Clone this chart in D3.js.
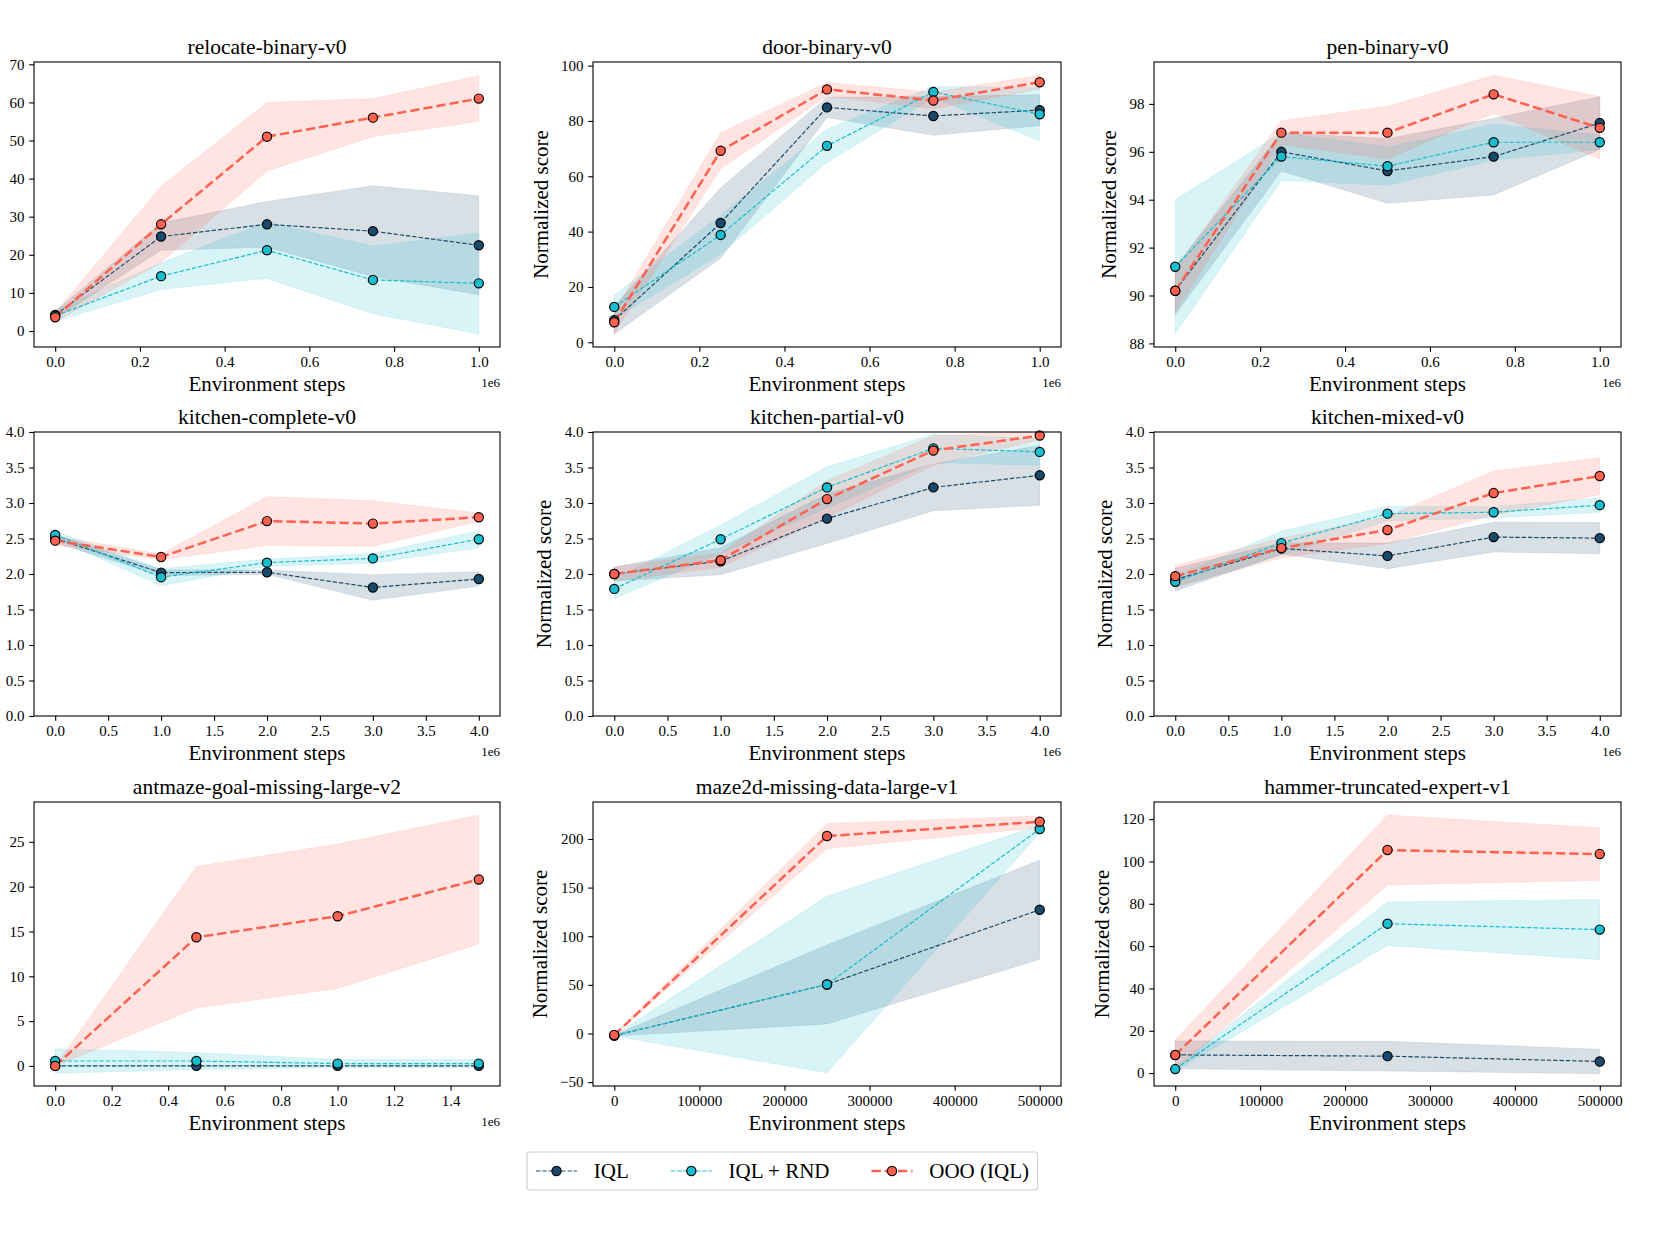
<!DOCTYPE html>
<html><head><meta charset="utf-8">
<script src="https://cdn.jsdelivr.net/npm/d3@7"></script>
<style>
body{margin:0;background:#fff;}
svg{display:block;}
text{font-family:"Liberation Serif","Times New Roman",serif;fill:#000;}
</style>
</head><body>
<svg id="chart" width="1654" height="1248"></svg>
<script>
// ---------------- DATA ----------------
const methods = ["IQL", "IQL + RND", "OOO (IQL)"];
const titles = ["relocate-binary-v0", "door-binary-v0", "pen-binary-v0",
  "kitchen-complete-v0", "kitchen-partial-v0", "kitchen-mixed-v0",
  "antmaze-goal-missing-large-v2", "maze2d-missing-data-large-v1", "hammer-truncated-expert-v1"];

const steps1M = [0, 250000, 500000, 750000, 1000000];
const steps4M = [0, 1000000, 2000000, 3000000, 4000000];
const stepsAnt = [0, 500000, 1000000, 1500000];
const steps500k = [0, 250000, 500000];

// relocate-binary-v0
const relocateIQL = [4.2, 24.8, 28.0, 26.2, 22.5];
const relocateIQLStd = [1.0, 3.6, 6.0, 11.9, 13.0];
const relocateRND = [4.0, 14.4, 21.2, 13.4, 12.5];
const relocateRNDStd = [1.5, 3.5, 7.4, 8.9, 13.3];
const relocateOOO = [3.6, 28.0, 51.0, 56.0, 61.0];
const relocateOOOStd = [1.2, 10.0, 9.0, 5.0, 6.0];
// door-binary-v0
const doorIQL = [8.0, 43.1, 84.9, 81.8, 83.9];
const doorIQLStd = [5.0, 12.7, 3.7, 7.0, 5.6];
const doorRND = [12.8, 38.8, 71.0, 90.5, 82.4];
const doorRNDStd = [4.3, 7.0, 6.0, 2.0, 9.6];
const doorOOO = [7.2, 69.2, 91.4, 87.4, 94.0];
const doorOOOStd = [4.0, 6.5, 2.5, 3.0, 2.5];
// pen-binary-v0
const penIQL = [90.2, 96.0, 95.2, 95.8, 97.2];
const penIQLStd = [1.0, 0.8, 1.35, 1.6, 1.1];
const penRND = [91.2, 95.8, 95.4, 96.4, 96.4];
const penRNDStd = [2.8, 1.0, 0.8, 0.75, 0.3];
const penOOO = [90.2, 96.8, 96.8, 98.4, 97.0];
const penOOOStd = [0.9, 0.5, 1.1, 0.8, 1.3];
// kitchen-complete-v0
const kcompIQL = [2.50, 2.02, 2.025, 1.81, 1.93];
const kcompIQLStd = [0.06, 0.04, 0.03, 0.18, 0.10];
const kcompRND = [2.55, 1.955, 2.16, 2.22, 2.49];
const kcompRNDStd = [0.05, 0.12, 0.05, 0.07, 0.12];
const kcompOOO = [2.47, 2.24, 2.745, 2.71, 2.80];
const kcompOOOStd = [0.06, 0.04, 0.345, 0.32, 0.06];
// kitchen-partial-v0
const kpartIQL = [2.0, 2.18, 2.78, 3.22, 3.39];
const kpartIQLStd = [0.10, 0.19, 0.35, 0.33, 0.42];
const kpartRND = [1.79, 2.49, 3.22, 3.77, 3.72];
const kpartRNDStd = [0.14, 0.20, 0.29, 0.20, 0.19];
const kpartOOO = [2.0, 2.195, 3.055, 3.74, 3.95];
const kpartOOOStd = [0.10, 0.10, 0.26, 0.21, 0.06];
// kitchen-mixed-v0
const kmixIQL = [1.92, 2.36, 2.255, 2.52, 2.505];
const kmixIQLStd = [0.16, 0.08, 0.18, 0.21, 0.22];
const kmixRND = [1.89, 2.435, 2.85, 2.87, 2.97];
const kmixRNDStd = [0.08, 0.17, 0.10, 0.08, 0.10];
const kmixOOO = [1.97, 2.365, 2.62, 3.14, 3.38];
const kmixOOOStd = [0.15, 0.14, 0.19, 0.31, 0.26];
// antmaze-goal-missing-large-v2
const antIQL = [0, 0, 0, 0];
const antIQLStd = [0, 0, 0, 0];
const antRND = [0.55, 0.55, 0.26, 0.26];
const antRNDStd = [1.37, 0.95, 0.45, 0.45];
const antOOO = [0, 14.35, 16.7, 20.8];
const antOOOStd = [0, 7.9, 8.05, 7.2];
// maze2d-missing-data-large-v1
const mazeIQL = [-2.2, 50.4, 127.2];
const mazeIQLStd = [0.5, 40.6, 51.0];
const mazeRND = [-2.2, 50.4, 210.2];
const mazeRNDStd = [0.5, 90.8, 4.0];
const mazeOOO = [-1.5, 203.0, 217.7];
const mazeOOOStd = [0.5, 13.0, 6.0];
// hammer-truncated-expert-v1
const hammerIQL = [8.6, 8.0, 5.5];
const hammerIQLStd = [6.6, 7.0, 5.8];
const hammerRND = [1.9, 70.6, 67.8];
const hammerRNDStd = [1.0, 10.3, 14.2];
const hammerOOO = [8.5, 105.4, 103.5];
const hammerOOOStd = [7.2, 16.5, 12.4];

// tick labels / values
const xTicks1M = [0, 200000, 400000, 600000, 800000, 1000000];
const xTicks4M = [0, 500000, 1000000, 1500000, 2000000, 2500000, 3000000, 3500000, 4000000];
const xTicksAnt = [0, 200000, 400000, 600000, 800000, 1000000, 1200000, 1400000];
const xTicks500k = [0, 100000, 200000, 300000, 400000, 500000];
const yTicksRelocate = [0, 10, 20, 30, 40, 50, 60, 70];
const yTicksDoor = [0, 20, 40, 60, 80, 100];
const yTicksPen = [88, 90, 92, 94, 96, 98];
const yTicksKitchen = [0, 0.5, 1.0, 1.5, 2.0, 2.5, 3.0, 3.5, 4.0];
const yTicksAnt = [0, 5, 10, 15, 20, 25];
const yTicksMaze = [-50, 0, 50, 100, 150, 200];
const yTicksHammer = [0, 20, 40, 60, 80, 100, 120];

// ---------------- STYLE ----------------
const colors = ["#1a4a6b", "#17becf", "#ff6150"];
const lineWidths = [1.2, 1.2, 2.5];
const dashes = ["4.4,1.9", "4.4,1.9", "9.25,4"];
const fillOpacity = 0.17;

const colLeft = [34, 593, 1154], colRight = [500, 1061, 1621];
const rowTop = [62, 432, 802], rowBottom = [347, 716, 1086];

const fmt1 = d => (d / 1e6).toFixed(1);
const fmtInt = d3.format("d");
const fmtK = d3.format(".1f");

const panels = [
  {steps: steps1M, m: [relocateIQL, relocateRND, relocateOOO], s: [relocateIQLStd, relocateRNDStd, relocateOOOStd],
   xd: [-50000, 1050000], yd: [-4.2, 70.6], xt: xTicks1M, xf: fmt1, yt: yTicksRelocate, yf: fmtInt, off: true, yl: false},
  {steps: steps1M, m: [doorIQL, doorRND, doorOOO], s: [doorIQLStd, doorRNDStd, doorOOOStd],
   xd: [-50000, 1050000], yd: [-1.7, 101.3], xt: xTicks1M, xf: fmt1, yt: yTicksDoor, yf: fmtInt, off: true, yl: true},
  {steps: steps1M, m: [penIQL, penRND, penOOO], s: [penIQLStd, penRNDStd, penOOOStd],
   xd: [-50000, 1050000], yd: [87.85, 99.75], xt: xTicks1M, xf: fmt1, yt: yTicksPen, yf: fmtInt, off: true, yl: true},
  {steps: steps4M, m: [kcompIQL, kcompRND, kcompOOO], s: [kcompIQLStd, kcompRNDStd, kcompOOOStd],
   xd: [-200000, 4200000], yd: [0, 4], xt: xTicks4M, xf: fmt1, yt: yTicksKitchen, yf: fmtK, off: true, yl: false},
  {steps: steps4M, m: [kpartIQL, kpartRND, kpartOOO], s: [kpartIQLStd, kpartRNDStd, kpartOOOStd],
   xd: [-200000, 4200000], yd: [0, 4], xt: xTicks4M, xf: fmt1, yt: yTicksKitchen, yf: fmtK, off: true, yl: true},
  {steps: steps4M, m: [kmixIQL, kmixRND, kmixOOO], s: [kmixIQLStd, kmixRNDStd, kmixOOOStd],
   xd: [-200000, 4200000], yd: [0, 4], xt: xTicks4M, xf: fmt1, yt: yTicksKitchen, yf: fmtK, off: true, yl: true},
  {steps: stepsAnt, m: [antIQL, antRND, antOOO], s: [antIQLStd, antRNDStd, antOOOStd],
   xd: [-75000, 1575000], yd: [-2.24, 29.44], xt: xTicksAnt, xf: fmt1, yt: yTicksAnt, yf: fmtInt, off: true, yl: false},
  {steps: steps500k, m: [mazeIQL, mazeRND, mazeOOO], s: [mazeIQLStd, mazeRNDStd, mazeOOOStd],
   xd: [-25000, 525000], yd: [-54, 238], xt: xTicks500k, xf: fmtInt, yt: yTicksMaze, yf: fmtInt, off: false, yl: true},
  {steps: steps500k, m: [hammerIQL, hammerRND, hammerOOO], s: [hammerIQLStd, hammerRNDStd, hammerOOOStd],
   xd: [-25000, 525000], yd: [-6.1, 128.1], xt: xTicks500k, xf: fmtInt, yt: yTicksHammer, yf: fmtInt, off: false, yl: true}
];

const svg = d3.select("#chart");
svg.append("rect").attr("width", 1654).attr("height", 1248).attr("fill", "#fff");

panels.forEach((p, k) => {
  const r = Math.floor(k / 3), c = k % 3;
  const L = colLeft[c], R = colRight[c], T = rowTop[r], B = rowBottom[r];
  const W = R - L, H = B - T;
  const g = svg.append("g").attr("transform", `translate(${L},${T})`);
  const x = d3.scaleLinear().domain(p.xd).range([0, W]);
  const y = d3.scaleLinear().domain(p.yd).range([H, 0]);

  const cid = "clip" + k;
  g.append("clipPath").attr("id", cid).append("rect").attr("width", W).attr("height", H);
  const plot = g.append("g").attr("clip-path", `url(#${cid})`);

  // fills first (below all lines)
  p.m.forEach((mean, j) => {
    const pts = mean.map((v, i) => ({x: p.steps[i], m: v, s: p.s[j][i]}));
    const area = d3.area().x(d => x(d.x)).y0(d => y(d.m - d.s)).y1(d => y(d.m + d.s));
    plot.append("path").attr("d", area(pts)).attr("fill", colors[j])
      .attr("fill-opacity", fillOpacity).attr("stroke", colors[j]).attr("stroke-opacity", fillOpacity * 0.6)
      .attr("stroke-width", 1);
  });
  // lines + markers
  p.m.forEach((mean, j) => {
    const pts = mean.map((v, i) => ({x: p.steps[i], m: v}));
    const line = d3.line().x(d => x(d.x)).y(d => y(d.m));
    plot.append("path").attr("d", line(pts)).attr("fill", "none").attr("stroke", colors[j])
      .attr("stroke-width", lineWidths[j]).attr("stroke-dasharray", dashes[j]);
    g.append("g").selectAll("circle").data(pts).join("circle")
      .attr("cx", d => x(d.x)).attr("cy", d => y(d.m)).attr("r", 4.6)
      .attr("fill", colors[j]).attr("stroke", "#000").attr("stroke-width", 1.2);
  });

  // frame
  g.append("rect").attr("width", W).attr("height", H).attr("fill", "none")
    .attr("stroke", "#000").attr("stroke-width", 1.1);

  // axes
  const xa = g.append("g").attr("transform", `translate(0,${H})`)
    .call(d3.axisBottom(x).tickValues(p.xt).tickFormat(p.xf).tickSize(4.8).tickPadding(4.8));
  const ya = g.append("g")
    .call(d3.axisLeft(y).tickValues(p.yt).tickFormat(p.yf).tickSize(4.8).tickPadding(4.8));
  [xa, ya].forEach(a => {
    a.select(".domain").remove();
    a.selectAll(".tick line").attr("stroke", "#000").attr("stroke-width", 1.1);
    a.selectAll(".tick text").attr("font-size", 15).attr("fill", "#000")
      .style("font-family", '"Liberation Serif","Times New Roman",serif');
  });

  // title
  g.append("text").attr("x", W / 2).attr("y", -8.5).attr("text-anchor", "middle")
    .attr("font-size", 21.5).text(titles[k]);
  // x label
  g.append("text").attr("x", W / 2).attr("y", H + 44).attr("text-anchor", "middle")
    .attr("font-size", 21).text("Environment steps");
  // offset text
  if (p.off) {
    g.append("text").attr("x", W).attr("y", H + 40).attr("text-anchor", "end")
      .attr("font-size", 13).text("1e6");
  }
  // y label
  if (p.yl) {
    let minX = 0;
    ya.selectAll(".tick text").each(function () {
      const b = this.getBBox();
      const tr = this.parentNode.getAttribute("transform");
      minX = Math.min(minX, b.x);
    });
    const lx = minX - 20.4;
    g.append("text").attr("transform", `translate(${lx},${H / 2}) rotate(-90)`)
      .attr("text-anchor", "middle").attr("dominant-baseline", "central")
      .attr("font-size", 21).text("Normalized score");
  }
});

// legend
const leg = svg.append("g");
const legCY = 1171;
const box = leg.append("rect");
let lx = 536;
const handleLen = 41, textPad = 16.8, colSpace = 42;
methods.forEach((name, j) => {
  leg.append("line").attr("x1", lx).attr("x2", lx + handleLen).attr("y1", legCY).attr("y2", legCY)
    .attr("stroke", colors[j]).attr("stroke-width", lineWidths[j]).attr("stroke-dasharray", dashes[j]);
  leg.append("circle").attr("cx", lx + handleLen / 2).attr("cy", legCY).attr("r", 4.6)
    .attr("fill", colors[j]).attr("stroke", "#000").attr("stroke-width", 1.2);
  const t = leg.append("text").attr("x", lx + handleLen + textPad).attr("y", legCY)
    .attr("dominant-baseline", "central").attr("font-size", 21).text(name);
  const w = t.node().getComputedTextLength();
  lx = lx + handleLen + textPad + w + (j < methods.length - 1 ? colSpace : 0);
});
box.attr("x", 527).attr("y", 1152).attr("width", lx + 8.5 - 527).attr("height", 38)
  .attr("rx", 3).attr("fill", "#fff").attr("stroke", "#d0d0d0").attr("stroke-width", 1.1);
</script>
</body></html>
